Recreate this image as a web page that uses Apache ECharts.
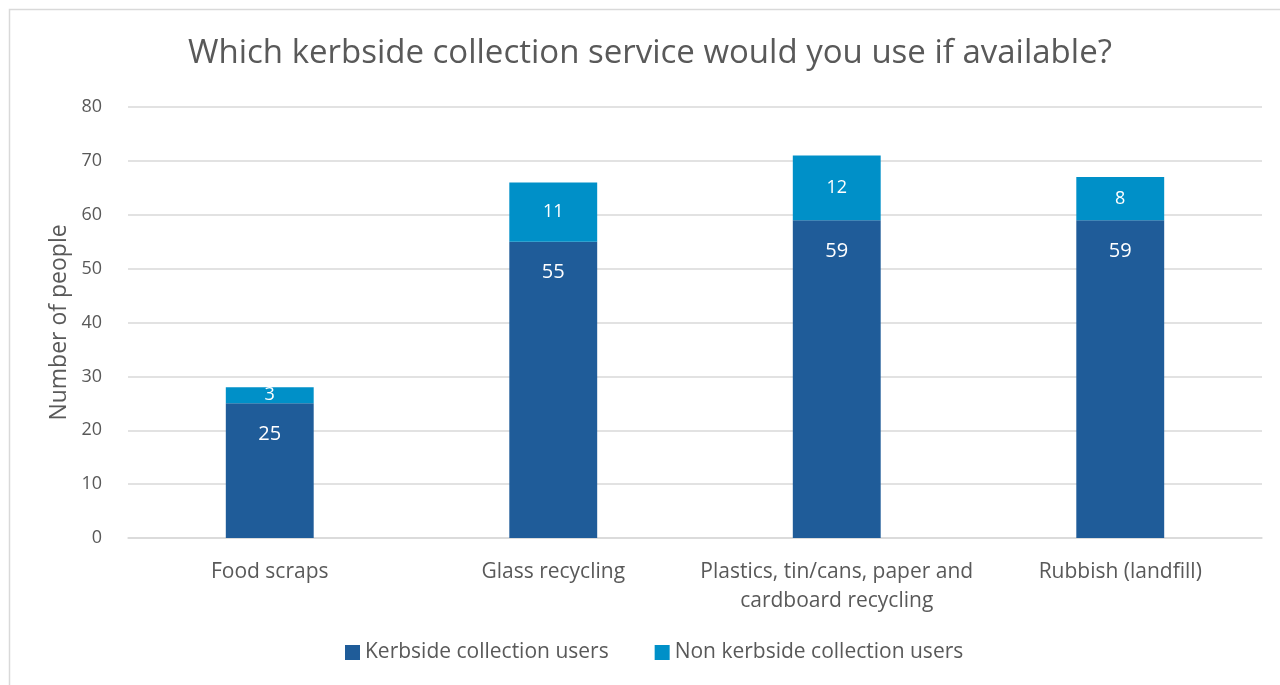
<!DOCTYPE html>
<html><head><meta charset="utf-8">
<script src="https://cdn.jsdelivr.net/npm/echarts@6/dist/echarts.min.js"></script>
<style>html,body{margin:0;padding:0;background:#fff}#c{width:1280px;height:685px}</style>
</head><body><div id="c"></div>
<script>
var categories = ["Food scraps", "Glass recycling", "Plastics, tin/cans, paper and\ncardboard recycling", "Rubbish (landfill)"];
var kerbside = [25, 55, 59, 59];
var nonKerbside = [3, 11, 12, 8];
var seriesNames = ["Kerbside collection users", "Non kerbside collection users"];
var yTicks = [0, 10, 20, 30, 40, 50, 60, 70, 80];

var FONT = "Open Sans, Lato, sans-serif";
var chart = echarts.init(document.getElementById('c'), null, {renderer: 'canvas'});
chart.setOption({
  animation: false,
  textStyle: {fontFamily: FONT},
  title: {
    text: "Which kerbside collection service would you use if available?",
    left: 183, top: 32,
    textStyle: {fontFamily: FONT, fontSize: 33, fontWeight: 'normal', color: '#595959'}
  },
  graphic: [{
    type: 'rect', left: 7, top: 7,
    shape: {x: 0, y: 0, width: 1290, height: 690},
    style: {fill: 'none', stroke: '#d9d9d9', lineWidth: 1.5},
    z: -1
  }],
  legend: {
    bottom: 17, left: 340, itemGap: 46, itemWidth: 15, itemHeight: 15,
    icon: 'rect',
    textStyle: {fontFamily: FONT, fontSize: 21, color: '#595959'},
    data: seriesNames
  },
  grid: {left: 128, right: 18, top: 107, bottom: 147},
  xAxis: {
    type: 'category', data: categories,
    axisLine: {show: true, lineStyle: {color: '#d9d9d9', width: 1.5}},
    axisTick: {show: false},
    axisLabel: {interval: 0, fontFamily: FONT, fontSize: 21, color: '#595959', margin: 20, lineHeight: 29}
  },
  yAxis: {
    type: 'value', min: yTicks[0], max: yTicks[yTicks.length - 1], interval: 10,
    name: 'Number of people', nameLocation: 'middle', nameGap: 55,
    nameTextStyle: {fontFamily: FONT, fontSize: 23, color: '#595959'},
    axisLine: {show: false}, axisTick: {show: false},
    axisLabel: {fontFamily: FONT, fontSize: 18, color: '#595959', margin: 26},
    splitLine: {lineStyle: {color: '#d9d9d9', width: 1.5}}
  },
  series: [{
    name: seriesNames[0], type: 'bar', stack: 'a', data: kerbside,
    barWidth: '31%',
    itemStyle: {color: '#1F5C99'},
    label: {show: true, position: 'insideTop', distance: 21, color: '#fff', fontSize: 20, fontFamily: FONT}
  }, {
    name: seriesNames[1], type: 'bar', stack: 'a', data: nonKerbside,
    itemStyle: {color: '#0090C8'},
    label: {show: true, position: 'inside', color: '#fff', fontSize: 18, fontFamily: FONT}
  }]
});
</script></body></html>
